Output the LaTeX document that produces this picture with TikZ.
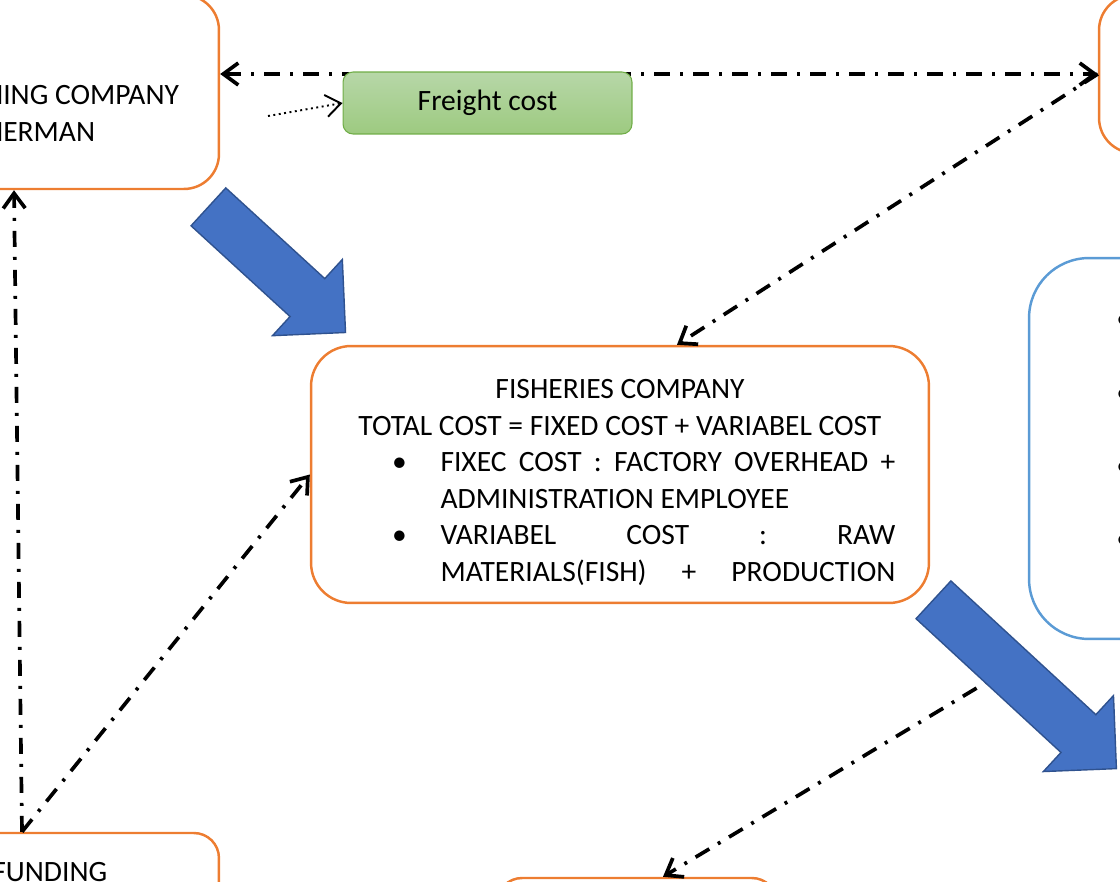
\documentclass[tikz,border=0pt]{standalone}
\usepackage{fontspec}
\setmainfont{Carlito}
\usetikzlibrary{arrows.meta, shapes, positioning}
\definecolor{boxorange}{RGB}{237,125,49}
\definecolor{boxblue}{RGB}{91,155,213}
\definecolor{arrowblue}{RGB}{68,114,196}
\definecolor{arrowedge}{RGB}{47,82,143}
\definecolor{freightedge}{RGB}{112,173,71}
\definecolor{freighttop}{RGB}{183,215,168}
\definecolor{freightbottom}{RGB}{157,202,128}
\newcommand{\costitem}[2]{\makebox[11.02cm][l]{\hspace{1.1cm}\makebox[0pt]{\textbullet}\hspace{0.82cm}\makebox[9.1cm][#1]{#2}}}
\newcommand{\costrest}[2]{\makebox[11.02cm][l]{\hspace{1.92cm}\makebox[9.1cm][#1]{#2}}}
\tikzset{> = { Straight Barb[length = 3mm, width = 4.4mm] }}

\begin{document}
\begin{tikzpicture}[x = 0.02cm, y = -0.02cm, font = \fontsize{16.8}{20.8}\selectfont,
		box/.style = { draw = boxorange, line width = 1.4pt, rounded corners = 0.7cm },
		link/.style = { ->, line width = 2.1pt, dash pattern = on 0.32cm off 0.2cm on 0.06cm off 0.2cm },
		bigarrow/.style = { single arrow, fill = arrowblue, draw = arrowedge, line width = 0.8pt, inner xsep = 0pt, inner ysep = 0.5cm,
			minimum width = 2.04cm, single arrow head extend = 0.52cm, single arrow tip angle = 90 }]
		\useasboundingbox (0,0) rectangle (1120,882);
		\clip (0,0) rectangle (1120,882);

		\node [box, minimum width = 8.2cm, minimum height = 3.88cm] (fishing) at (14,92) {};
		\node [anchor = north west, align = left, inner sep = 0pt] (fishingtext) at (-50,85) {FISHING COMPANY\\FISHERMAN};
		\node [box, minimum width = 8cm, minimum height = 3.16cm] (buyer) at (1299,74) {};
		\node [box, draw = boxblue, rounded corners = 1.2cm, minimum width = 8cm, minimum height = 7.62cm] (notes) at (1229,448.5) {};
		\node [box, rounded corners = 0.5cm, minimum width = 7.88cm, minimum height = 2.4cm] (funding) at (22,893) {};
		\node [anchor = base west, inner sep = 0pt] (fundingtext) at (-8,881) {FUNDING};
		\node [box, rounded corners = 0.5cm, minimum width = 5.6cm, minimum height = 3cm] (outlet) at (637,953) {};

		\node [box, rounded corners = 0.8cm, minimum width = 12.36cm, minimum height = 5.14cm, align = center] (fisheries) at (620,474.5)
			{\rule{0pt}{0.7cm}FISHERIES COMPANY\\
			TOTAL COST = FIXED COST + VARIABEL COST\\
			\costitem{s}{FIXEC COST : FACTORY OVERHEAD +}\\
			\costrest{l}{ADMINISTRATION EMPLOYEE}\\
			\costitem{s}{VARIABEL COST : RAW}\\
			\costrest{s}{MATERIALS(FISH) + PRODUCTION}};

		\node [anchor = west, inner sep = 0pt] (dot1) at (1116,322) {\textbullet};
		\node [anchor = west, inner sep = 0pt] (dot2) at (1116,396) {\textbullet};
		\node [anchor = west, inner sep = 0pt] (dot3) at (1116,469) {\textbullet};
		\node [anchor = west, inner sep = 0pt] (dot4) at (1116,542) {\textbullet};

		\coordinate (hidden) at (1010,668);
		\coordinate (dotstart) at (268,116);

		\draw [link, <->] (fishing.east |- buyer.west) -- (buyer.west);
		\draw [link] (buyer.west) -- ([xshift = 1.14cm] fisheries.north);
		\draw [link] (funding.north) -- (fishing.south);
		\draw [link] (funding.north) -- (fisheries.west);
		\draw [link] (hidden) -- ([xshift = 0.52cm] outlet.north);

		\node [draw = freightedge, line width = 0.6pt, rounded corners = 0.2cm, top color = freighttop, bottom color = freightbottom,
			minimum width = 5.78cm, minimum height = 1.24cm] (freight) at (487.5,103) {Freight cost};
		\draw [->, dotted, line width = 1.1pt] (dotstart) -- (freight.west);

		\node [bigarrow, minimum height = 3.72cm, rotate = -42.5] (flow1) at (267.5,261) {};
		\node [bigarrow, minimum height = 4.98cm, rotate = -42.7] (flow2) at (1015.5,675.5) {};
	\end{tikzpicture}
\end{document}
